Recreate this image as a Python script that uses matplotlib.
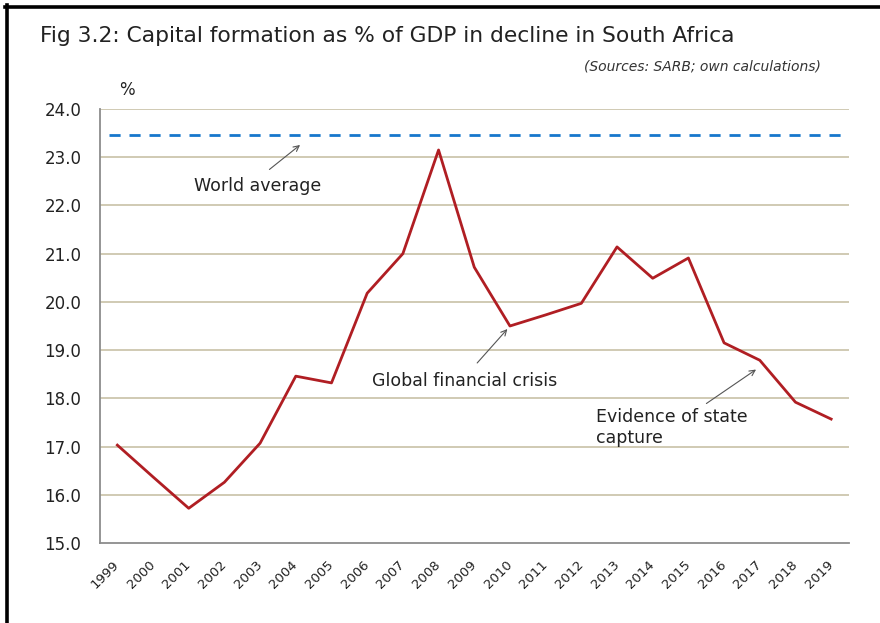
import matplotlib
matplotlib.use("Agg")
import matplotlib.pyplot as plt
from matplotlib.lines import Line2D

# Gross fixed capital formation, % of GDP
years = [str(y) for y in range(1999, 2020)]
capital_formation = [17.03, 16.37, 15.72, 16.26, 17.07, 18.46, 18.32, 20.18, 21.00,
                     23.15, 20.72, 19.50, 19.73, 19.97, 21.14, 20.49, 20.91, 19.15,
                     18.79, 17.92, 17.57]
world_average = 23.46
y_ticks = [15.0, 16.0, 17.0, 18.0, 19.0, 20.0, 21.0, 22.0, 23.0, 24.0]

plt.rcParams['font.family'] = ['DejaVu Sans']

fig = plt.figure(figsize=(8.8, 6.23), dpi=100)
ax = fig.add_axes([99.5 / 880, 1 - 543 / 623, (849 - 99.5) / 880, (543 - 109) / 623])

x = list(range(len(years)))

# horizontal gridlines
for t in y_ticks[1:]:
    ax.axhline(t, color='#cdc6ae', lw=1.3, zorder=1)

ax.hlines(world_average, -0.22, 20.3, colors='#1677cc', linestyles=(0, (4, 3.2)),
          lw=2.0, zorder=2)
ax.plot(x, capital_formation, color='#b01e23', lw=2.0, zorder=3)

ax.set_xlim(-0.5, len(years) - 0.5)
ax.set_ylim(15, 24)
ax.set_yticks(y_ticks)
ax.set_yticklabels([f"{t:.1f}" for t in y_ticks], fontsize=12, color='#222222')
ax.set_xticks(x)
ax.set_xticklabels(years, rotation=45, ha='right', va='center', rotation_mode='anchor',
                   fontsize=9.5, color='#222222')
ax.tick_params(axis='y', length=0, pad=13)
ax.tick_params(axis='x', length=0, pad=14)
for s in ['top', 'right']:
    ax.spines[s].set_visible(False)
for s in ['left', 'bottom']:
    ax.spines[s].set_color('#8c8c8c')
    ax.spines[s].set_linewidth(1.3)

arrow = dict(arrowstyle='->', color='#555555', lw=0.8)
ax.annotate('', xy=(5.18, 23.29), xytext=(4.2, 22.71), arrowprops=arrow)
ax.text(2.15, 22.4, 'World average', fontsize=12.5, color='#222222', va='center')
ax.annotate('', xy=(10.98, 19.48), xytext=(10.03, 18.69), arrowprops=arrow)
ax.text(7.14, 18.36, 'Global financial crisis', fontsize=12.5, color='#222222', va='center')
ax.annotate('', xy=(17.96, 18.63), xytext=(16.44, 17.86), arrowprops=arrow)
ax.text(13.42, 17.39, 'Evidence of state\ncapture', fontsize=12.5, color='#222222',
        va='center', linespacing=1.2)

fig.text(40 / 880, 1 - 36 / 623, 'Fig 3.2: Capital formation as % of GDP in decline in South Africa',
         fontsize=15.7, color='#222222', va='center', ha='left')
fig.text(821 / 880, 1 - 67 / 623, '(Sources: SARB; own calculations)', fontsize=10,
         style='italic', color='#333333', va='center', ha='right')
fig.text(127 / 880, 1 - 90 / 623, '%', fontsize=12, color='#222222', va='center', ha='center')

# frame along the top and left edges
fig.add_artist(Line2D([5 / 880, 1], [1 - 6.5 / 623] * 2, color='black', lw=2.6,
                      transform=fig.transFigure))
fig.add_artist(Line2D([6.5 / 880] * 2, [0, 1 - 5 / 623], color='black', lw=2.6,
                      transform=fig.transFigure))

fig.savefig('out.png', dpi=100)
